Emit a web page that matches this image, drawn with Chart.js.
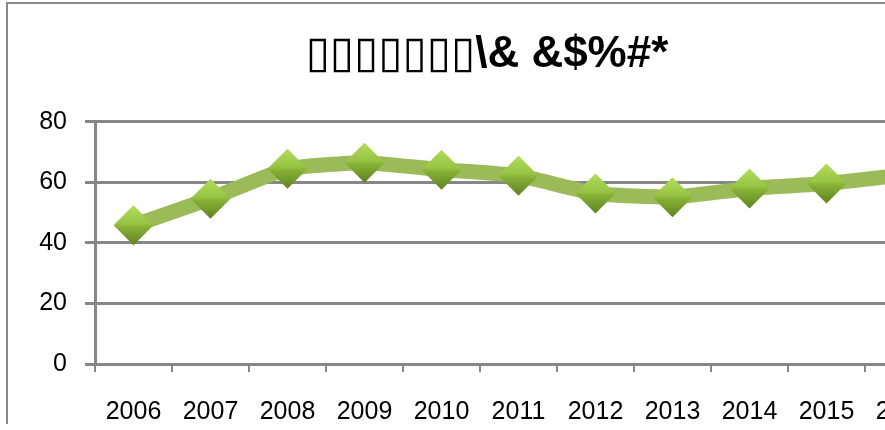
<!DOCTYPE html>
<html lang="zh">
<head>
<meta charset="UTF-8">
<title>Line chart</title>
<script src="https://cdn.jsdelivr.net/npm/chart.js"></script>
<style>
  html, body { margin: 0; padding: 0; background: #fff; overflow: hidden; }
  #wrap { position: relative; width: 885px; height: 430px; overflow: hidden; }
  #frame { position: absolute; left: 6px; top: 2px; width: 2000px; height: 420px;
           border-top: 2px solid #8a8a8a; border-left: 2px solid #8a8a8a; }
  #c { position: absolute; left: 0; top: 0; }
</style>
</head>
<body>
<div id="wrap">
  <div id="frame"></div>
  <canvas id="c" width="974" height="430"></canvas>
</div>
<script>
const titleText = '\u25AF\u25AF\u25AF\u25AF\u25AF\u25AF\u25AF\\& &$%#*';
const years = ['2006', '2007', '2008', '2009', '2010', '2011', '2012', '2013', '2014', '2015', '2016'];
const values = [45.8, 54.6, 64.5, 66.5, 64.2, 62.2, 56.3, 55.1, 58.0, 59.6, 62.5];
const yTicks = [0, 20, 40, 60, 80];

const gridGray = '#878787';
const tickFont = { family: '"Liberation Sans", Arial, sans-serif', size: 25 };

function diamondFill(ctx) {
  const chart = ctx.chart;
  const ys = chart.scales && chart.scales.y;
  if (!ys || ctx.raw === undefined || !chart.chartArea) return '#8db43a';
  const y = ys.getPixelForValue(ctx.raw);
  const g = chart.ctx.createLinearGradient(0, y - 20, 0, y + 20);
  g.addColorStop(0, '#b3dc5c');
  g.addColorStop(0.45, '#97c443');
  g.addColorStop(0.55, '#86b035');
  g.addColorStop(1, '#5f8221');
  return g;
}

new Chart(document.getElementById('c'), {
  type: 'line',
  data: {
    labels: years,
    datasets: [{
      data: values,
      borderColor: '#9bbb59',
      borderWidth: 15,
      tension: 0.15,
      pointStyle: 'rectRot',
      pointRadius: 20,
      pointHoverRadius: 20,
      pointBorderWidth: 0,
      pointBackgroundColor: diamondFill
    }]
  },
  options: {
    responsive: false,
    animation: false,
    layout: { padding: { left: 32, right: 32, top: 0, bottom: 0 } },
    plugins: {
      legend: { display: false },
      tooltip: { enabled: false },
      title: {
        display: true,
        text: titleText,
        color: '#000',
        font: { family: 'Liberation Sans, DejaVu Sans, sans-serif', size: 44, weight: 'bold' },
        padding: { top: 28, bottom: 41 }
      }
    },
    scales: {
      x: {
        offset: true,
        grid: { display: true, drawOnChartArea: false, drawTicks: true, tickLength: 8,
                offset: true, color: gridGray, lineWidth: 2 },
        border: { display: true, color: gridGray, width: 3 },
        ticks: { color: '#000', padding: 25, maxRotation: 0, autoSkip: false, font: tickFont },
        afterFit: s => { s.height = 66; }
      },
      y: {
        min: 0,
        max: 80,
        afterBuildTicks: s => { s.ticks = yTicks.map(v => ({ value: v })); },
        grid: { color: gridGray, lineWidth: 3, tickLength: 10 },
        border: { display: true, color: gridGray, width: 3 },
        ticks: { color: '#000', padding: 18, font: tickFont },
        afterFit: s => { s.width = 63; }
      }
    }
  }
});
</script>
</body>
</html>
